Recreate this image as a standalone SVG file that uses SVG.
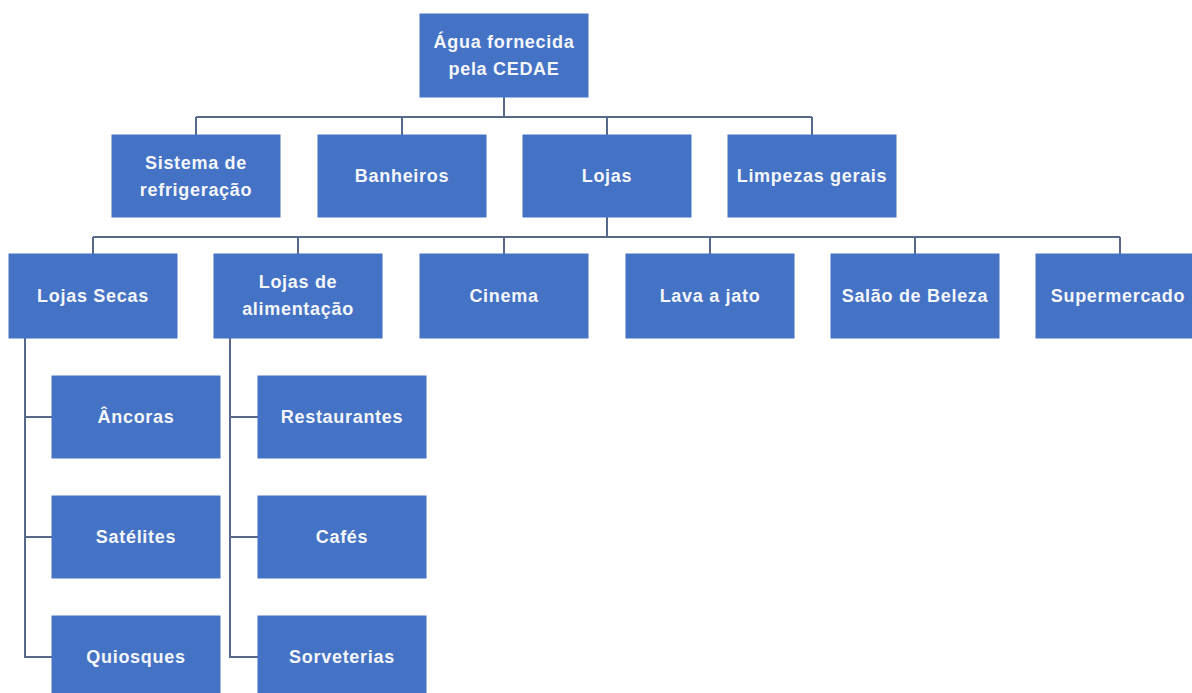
<svg xmlns="http://www.w3.org/2000/svg" width="1192" height="693" viewBox="0 0 1192 693">
<style>
.box{fill:#4472C4;stroke:#4472C4;stroke-width:1}
.t{font-family:"Liberation Sans",Arial,sans-serif;font-weight:bold;font-size:18px;fill:#f4f6fa;text-anchor:middle;dominant-baseline:central;letter-spacing:0.7px}
.c{fill:none;stroke:#56698a;stroke-width:2}
</style>
<rect width="1192" height="693" fill="#ffffff"/>
<g id="connectors">
<path class="c" d="M504 97V117M196 117H812M196 117V135M402 117V135M607 117V135M812 117V135"/>
<path class="c" d="M607 217V237M93 237H1120M93 237V254M298 237V254M504 237V254M710 237V254M915 237V254M1120 237V254"/>
<path class="c" d="M25 338V657H52M25 417H52M25 537H52"/>
<path class="c" d="M230 338V657H258M230 417H258M230 537H258"/>
</g>
<g id="n-agua"><rect class="box" x="420" y="14" width="168" height="83"/><text class="t" x="504" y="42">Água fornecida</text><text class="t" x="504" y="69">pela CEDAE</text></g>
<g id="n-sistema"><rect class="box" x="112" y="135" width="168" height="82"/><text class="t" x="196" y="163">Sistema de</text><text class="t" x="196" y="190">refrigeração</text></g>
<g id="n-banheiros"><rect class="box" x="318" y="135" width="168" height="82"/><text class="t" x="402" y="176">Banheiros</text></g>
<g id="n-lojas"><rect class="box" x="523" y="135" width="168" height="82"/><text class="t" x="607" y="176">Lojas</text></g>
<g id="n-limpezas"><rect class="box" x="728" y="135" width="168" height="82"/><text class="t" x="812" y="176">Limpezas gerais</text></g>
<g id="n-secas"><rect class="box" x="9" y="254" width="168" height="84"/><text class="t" x="93" y="296">Lojas Secas</text></g>
<g id="n-alimentacao"><rect class="box" x="214" y="254" width="168" height="84"/><text class="t" x="298" y="282">Lojas de</text><text class="t" x="298" y="309">alimentação</text></g>
<g id="n-cinema"><rect class="box" x="420" y="254" width="168" height="84"/><text class="t" x="504" y="296">Cinema</text></g>
<g id="n-lava"><rect class="box" x="626" y="254" width="168" height="84"/><text class="t" x="710" y="296">Lava a jato</text></g>
<g id="n-salao"><rect class="box" x="831" y="254" width="168" height="84"/><text class="t" x="915" y="296">Salão de Beleza</text></g>
<g id="n-super"><rect class="box" x="1036" y="254" width="168" height="84"/><text class="t" x="1118" y="296">Supermercado</text></g>
<g id="n-ancoras"><rect class="box" x="52" y="376" width="168" height="82"/><text class="t" x="136" y="417">Âncoras</text></g>
<g id="n-satelites"><rect class="box" x="52" y="496" width="168" height="82"/><text class="t" x="136" y="537">Satélites</text></g>
<g id="n-quiosques"><rect class="box" x="52" y="616" width="168" height="82"/><text class="t" x="136" y="657">Quiosques</text></g>
<g id="n-restaurantes"><rect class="box" x="258" y="376" width="168" height="82"/><text class="t" x="342" y="417">Restaurantes</text></g>
<g id="n-cafes"><rect class="box" x="258" y="496" width="168" height="82"/><text class="t" x="342" y="537">Cafés</text></g>
<g id="n-sorveterias"><rect class="box" x="258" y="616" width="168" height="82"/><text class="t" x="342" y="657">Sorveterias</text></g>
</svg>
